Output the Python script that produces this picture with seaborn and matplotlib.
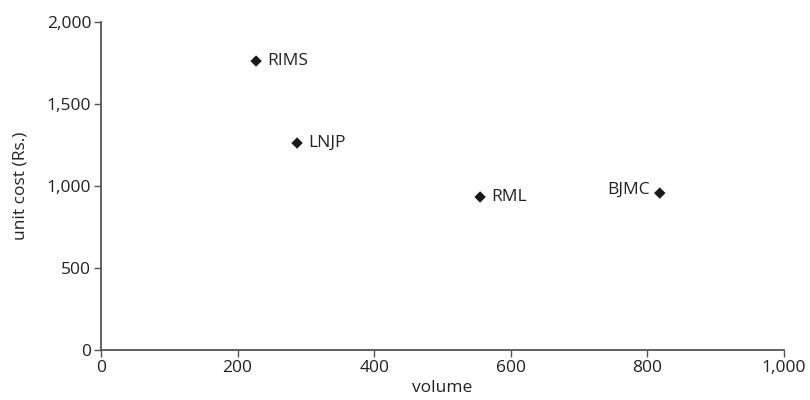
import pandas as pd
import matplotlib.pyplot as plt
import seaborn as sns
from matplotlib.ticker import FuncFormatter

# values
hospitals = ['RIMS', 'LNJP', 'RML', 'BJMC']
volume = [227, 287, 555, 818]
unit_cost = [1762, 1262, 933, 957]
label_side = ['right', 'right', 'right', 'left']

x_ticks = [0, 200, 400, 600, 800, 1000]
y_ticks = [0, 500, 1000, 1500, 2000]

df = pd.DataFrame({'hospital': hospitals, 'volume': volume, 'unit_cost': unit_cost, 'side': label_side})

sns.set_style('white')
plt.rcParams['font.family'] = ['Open Sans', 'DejaVu Sans']
fs = 12.5

fig = plt.figure(figsize=(8.1, 4.0), dpi=100)
ax = fig.add_axes([0.1247, 0.125, 0.8433, 0.82])

sns.scatterplot(data=df, x='volume', y='unit_cost', marker='D', color='#1a1a1a',
                s=34, edgecolor='none', ax=ax, zorder=3)

for _, row in df.iterrows():
    if row['side'] == 'right':
        ax.annotate(row['hospital'], (row['volume'], row['unit_cost']), xytext=(8, 0),
                    textcoords='offset points', ha='left', va='center', fontsize=fs, color='#222222')
    else:
        ax.annotate(row['hospital'], (row['volume'], row['unit_cost']), xytext=(-7, 2),
                    textcoords='offset points', ha='right', va='center', fontsize=fs, color='#222222')

ax.set_xlim(0, 1000)
ax.set_ylim(0, 2000)
ax.set_xticks(x_ticks)
ax.set_yticks(y_ticks)
fmt = FuncFormatter(lambda v, p: f'{int(v):,}')
ax.xaxis.set_major_formatter(fmt)
ax.yaxis.set_major_formatter(fmt)

ax.set_xlabel('volume', fontsize=fs, color='#222222', labelpad=3)
ax.set_ylabel('unit cost (Rs.)', fontsize=fs, color='#222222', labelpad=13)

sns.despine(ax=ax)
for side in ['left', 'bottom']:
    ax.spines[side].set_color('#555555')
    ax.spines[side].set_linewidth(1.3)
ax.tick_params(axis='both', which='major', direction='out', length=5, width=1,
               color='#555555', labelsize=fs, labelcolor='#222222', pad=2,
               bottom=True, left=True)

plt.savefig('out.png', dpi=100)
plt.close()
